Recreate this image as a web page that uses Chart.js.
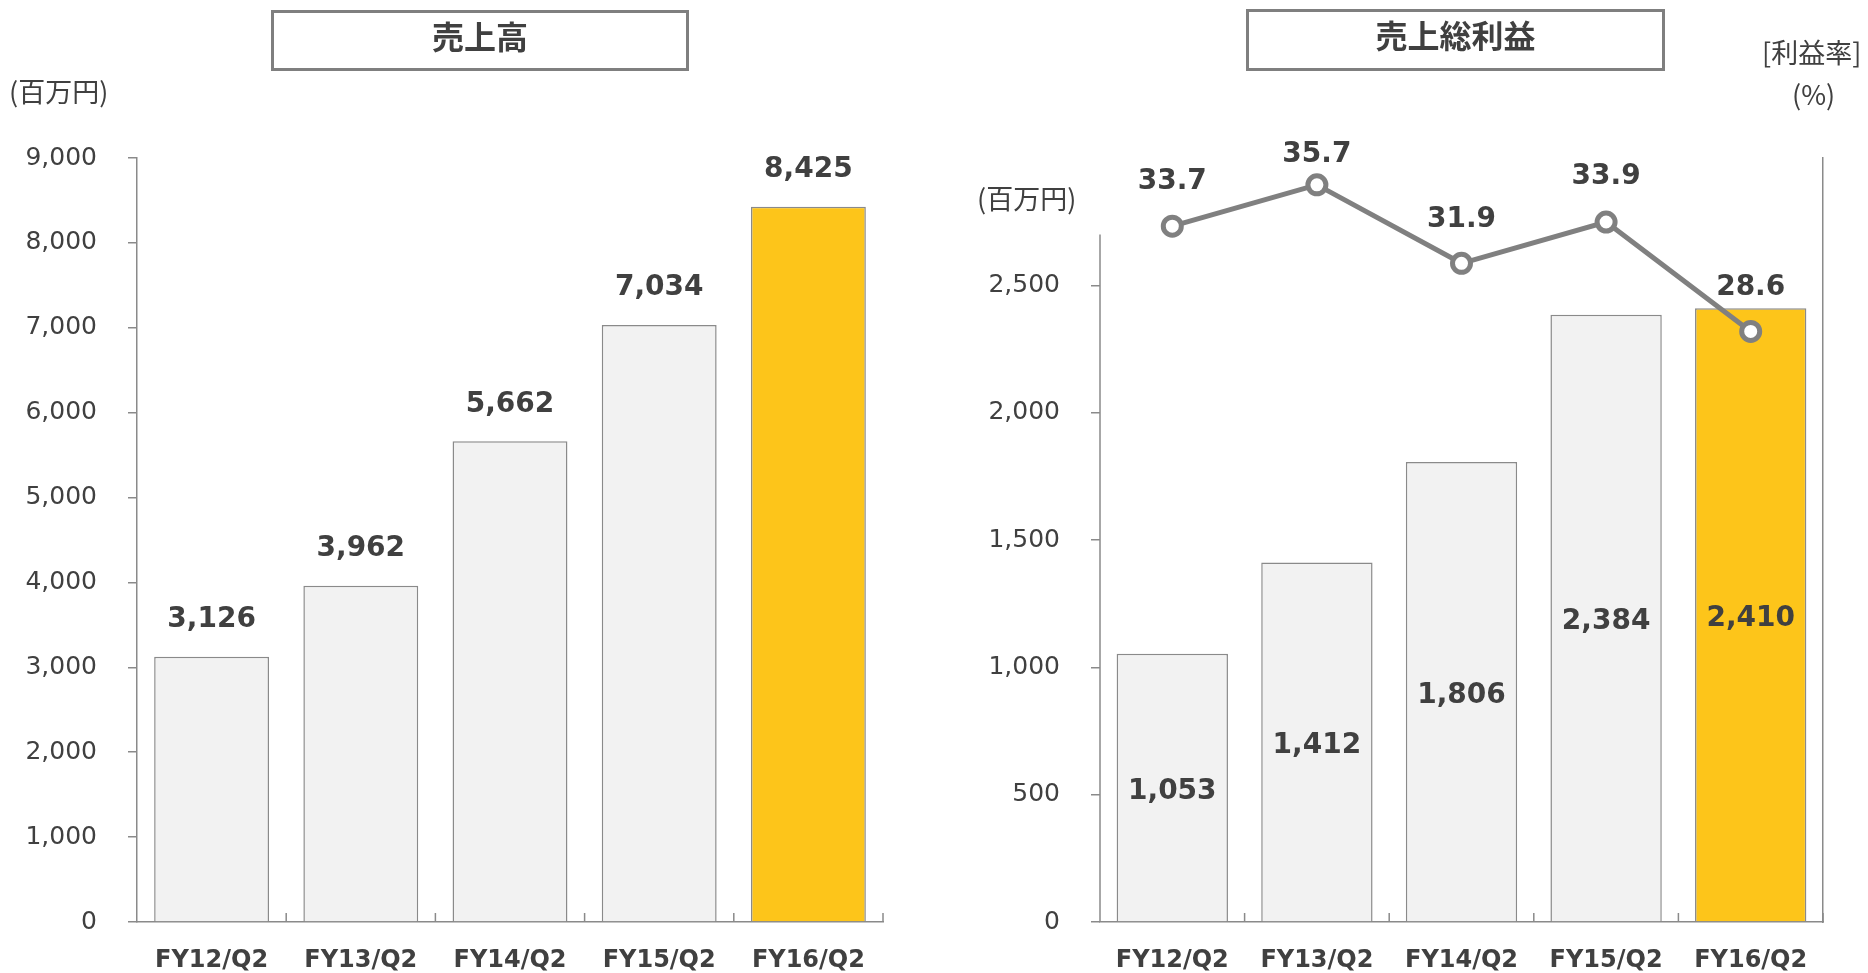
<!DOCTYPE html>
<html>
<head>
<meta charset="utf-8">
<script src="https://cdn.jsdelivr.net/npm/chart.js@4/dist/chart.umd.min.js"></script>
<style>
    body { margin: 0; background: #fff; width: 1868px; height: 973px; position: relative; overflow: hidden;
           font-family: "Noto Sans CJK JP", sans-serif; color: #404040; }
    .panel { position: absolute; top: 0; width: 934px; height: 973px; }
    .box { position: absolute; border: 3px solid #7f7f7f; box-sizing: border-box; display: flex;
           align-items: center; justify-content: center; font-weight: bold; font-size: 32px; padding-bottom: 12px; }
    .unit { position: absolute; font-size: 27px; line-height: 27px; white-space: nowrap; }
</style>
</head>
<body>
<div class="panel" style="left:0"><canvas id="salesChart" width="934" height="973"></canvas></div>
<div class="panel" style="left:934px"><canvas id="profitChart" width="934" height="973"></canvas></div>

<div class="box" style="left:271px; top:10px; width:418px; height:61px;">売上高</div>
<div class="box" style="left:1246px; top:9px; width:419px; height:62px;">売上総利益</div>
<div class="unit" style="left:9px; top:77px;">(百万円)</div>
<div class="unit" style="left:977px; top:184px;">(百万円)</div>
<div class="unit" style="left:1762px; top:38px;">[利益率]</div>
<div class="unit" style="left:1792px; top:80px;">(%)</div>

<script>
"use strict";
const categories = ['FY12/Q2', 'FY13/Q2', 'FY14/Q2', 'FY15/Q2', 'FY16/Q2'];
const salesValues = [3126, 3962, 5662, 7034, 8425];          // 売上高 (百万円)
const grossProfitValues = [1053, 1412, 1806, 2384, 2410];    // 売上総利益 (百万円)
const marginValues = [33.7, 35.7, 31.9, 33.9, 28.6];         // 利益率 (%)
const salesTicks = [0, 1000, 2000, 3000, 4000, 5000, 6000, 7000, 8000, 9000];
const profitTicks = [0, 500, 1000, 1500, 2000, 2500];

const AXIS = '#8a8a8a';
const TEXT = '#404040';
const LIGHT = '#f2f2f2';
const YELLOW = '#fdc51a';
const barColors = categories.map((c, i) => i === categories.length - 1 ? YELLOW : LIGHT);

// ラベル描画 (datalabels プラグインの代わり)
const valueLabels = {
    id: 'valueLabels',
    afterDatasetsDraw(chart) {
        const ctx = chart.ctx;
        ctx.save();
        ctx.font = 'bold 28px "DejaVu Sans"';
        ctx.fillStyle = TEXT;
        ctx.textAlign = 'center';
        ctx.textBaseline = 'middle';
        chart.data.datasets.forEach((ds, di) => {
            const meta = chart.getDatasetMeta(di);
            meta.data.forEach((el, i) => {
                const v = ds.data[i];
                const txt = ds.decimals ? v.toFixed(ds.decimals) : v.toLocaleString('en-US');
                const gap = Array.isArray(ds.labelGap) ? ds.labelGap[i] : ds.labelGap;
                const y = ds.labelPos === 'inside' ? (el.y + el.base) / 2 + 4 : el.y - gap;
                ctx.fillText(txt, el.x, y);
            });
        });
        ctx.restore();
    }
};

// x軸の内向き目盛り + 左軸線 (途中まで)
const axisMarks = {
    id: 'axisMarks',
    afterDraw(chart, args, opts) {
        const { ctx, chartArea, scales } = chart;
        const x = scales.x;
        const step = (x.right - x.left) / categories.length;
        ctx.save();
        ctx.strokeStyle = AXIS;
        ctx.lineWidth = 1.5;
        ctx.beginPath();
        for (let i = 1; i <= categories.length; i++) {
            const px = x.left + step * i;
            ctx.moveTo(px, x.top);
            ctx.lineTo(px, x.top - 9);
        }
        if (opts.yLineTo) {
            ctx.moveTo(chartArea.left, scales.y.getPixelForValue(0));
            ctx.lineTo(chartArea.left, scales.y.getPixelForValue(opts.yLineTo));
        }
        ctx.stroke();
        ctx.restore();
    }
};

const xScale = {
    grid: { display: true, drawOnChartArea: false, drawTicks: false },
    border: { color: AXIS, width: 1.5 },
    ticks: { color: TEXT, font: { family: 'DejaVu Sans', size: 24, weight: 'bold' }, padding: 24 },
    afterFit: (s) => { s.height = 51; }
};

new Chart(document.getElementById('salesChart'), {
    type: 'bar',
    data: {
        labels: categories,
        datasets: [{
            data: salesValues, backgroundColor: barColors, borderColor: AXIS, borderWidth: 1.5,
            barPercentage: 0.77, categoryPercentage: 1, labelPos: 'above', labelGap: 37
        }]
    },
    options: {
        responsive: false, animation: false, devicePixelRatio: 1,
        layout: { padding: { top: 158, right: 51, bottom: 0, left: 0 } },
        plugins: { legend: { display: false }, tooltip: { enabled: false }, axisMarks: {} },
        scales: {
            x: xScale,
            y: {
                min: 0, max: 9000,
                afterBuildTicks: (s) => { s.ticks = salesTicks.map(v => ({ value: v })); },
                afterFit: (s) => { s.width = 137; },
                grid: { drawOnChartArea: false, drawTicks: true, tickLength: 9, color: AXIS, lineWidth: 1.5 },
                border: { color: AXIS, width: 1.5 },
                ticks: { color: TEXT, font: { family: 'DejaVu Sans', size: 25 }, padding: 31,
                         callback: (v) => v.toLocaleString('en-US') }
            }
        }
    },
    plugins: [valueLabels, axisMarks]
});

new Chart(document.getElementById('profitChart'), {
    type: 'bar',
    data: {
        labels: categories,
        datasets: [{
            type: 'line', data: marginValues, yAxisID: 'y1', order: 0,
            borderColor: '#808080', borderWidth: 5, pointRadius: 9, pointBorderWidth: 5,
            pointBackgroundColor: '#fff', pointBorderColor: '#808080',
            labelPos: 'above', labelGap: [44, 30, 44, 45, 44], decimals: 1
        }, {
            data: grossProfitValues, yAxisID: 'y', order: 1,
            backgroundColor: barColors, borderColor: AXIS, borderWidth: 1.5,
            barPercentage: 0.77, categoryPercentage: 1, labelPos: 'inside'
        }]
    },
    options: {
        responsive: false, animation: false, devicePixelRatio: 1,
        layout: { padding: { top: 158, right: 45, bottom: 0, left: 0 } },
        plugins: { legend: { display: false }, tooltip: { enabled: false }, axisMarks: { yLineTo: 2700 } },
        scales: {
            x: xScale,
            y: {
                min: 0, max: 3000,
                afterBuildTicks: (s) => { s.ticks = profitTicks.map(v => ({ value: v })); },
                afterFit: (s) => { s.width = 166; },
                grid: { drawOnChartArea: false, drawTicks: true, tickLength: 9, color: AXIS, lineWidth: 1.5 },
                border: { display: false },
                ticks: { color: TEXT, font: { family: 'DejaVu Sans', size: 25 }, padding: 31,
                         callback: (v) => v.toLocaleString('en-US') }
            },
            y1: {
                position: 'right', min: 0, max: 37,
                afterFit: (s) => { s.width = 0; },
                grid: { drawOnChartArea: false, drawTicks: false },
                border: { color: AXIS, width: 1.5 },
                ticks: { display: false }
            }
        }
    },
    plugins: [valueLabels, axisMarks]
});
</script>
</body>
</html>
